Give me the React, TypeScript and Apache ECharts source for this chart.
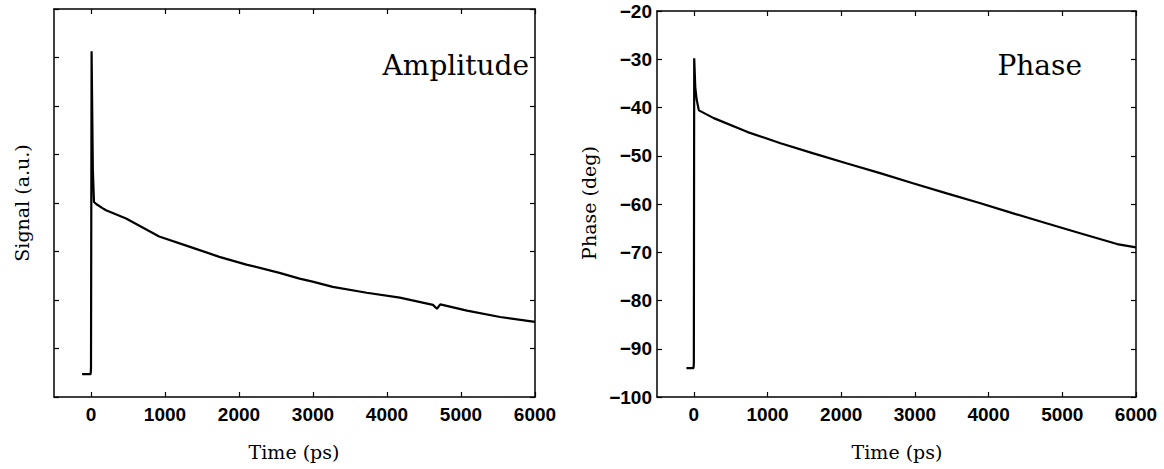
import React, { useEffect, useRef } from "react";
import * as echarts from "echarts";

const xTicks = [0, 1000, 2000, 3000, 4000, 5000, 6000];

const ampTime = [-120, -5, 0, 8, 25, 40, 70, 149, 203, 474, 921, 1328, 1734, 2100, 2547, 2818, 2995, 3266, 3726, 4173, 4621, 4675, 4720, 5081, 5528, 6000];
const ampVal = [0.47, 0.47, 0.6, 7.13, 4.69, 4.02, 3.98, 3.9, 3.85, 3.68, 3.31, 3.1, 2.89, 2.73, 2.56, 2.44, 2.38, 2.27, 2.15, 2.05, 1.9, 1.82, 1.91, 1.78, 1.65, 1.55];

const phaseTime = [-100, -5, 0, 5, 20, 40, 68, 270, 730, 1176, 1622, 2081, 2527, 2973, 3432, 3878, 4324, 4784, 5230, 5743, 6000];
const phaseVal = [-94.0, -94.0, -93, -29.8, -36, -38.5, -40.6, -42.2, -45.1, -47.4, -49.5, -51.6, -53.6, -55.7, -57.8, -59.8, -61.9, -64.0, -66.0, -68.3, -69.0];

const SERIF = "DejaVu Serif";
const SANS = "Liberation Sans";

export default function App() {
  const ref = useRef<HTMLDivElement>(null);
  useEffect(() => {
    if (!ref.current) return;
    const chart = echarts.init(ref.current, null, { renderer: "svg" });
    const axisLine = { show: true, onZero: false, lineStyle: { color: "#000", width: 1.5 } };
    const tick = { show: true, inside: true, length: 5, lineStyle: { color: "#000", width: 1.2 } };
    const xBase = (gridIndex: number, pos: string, labels: boolean) => ({
      type: "value",
      gridIndex,
      position: pos,
      min: -500,
      max: 6000,
      splitLine: { show: false },
      axisLine,
      axisTick: { ...tick, customValues: xTicks },
      axisLabel: labels
        ? {
            show: true,
            customValues: xTicks,
            color: "#000",
            fontFamily: SANS,
            fontWeight: "bold",
            fontSize: 19,
            margin: 8,
            formatter: (v: number) => String(v),
          }
        : { show: false },
    });
    const yAmp = (pos: string) => ({
      type: "value",
      gridIndex: 0,
      position: pos,
      min: 0,
      max: 8,
      interval: 1,
      splitLine: { show: false },
      axisLine,
      axisTick: tick,
      axisLabel: { show: false },
    });
    const yPhase = (pos: string, labels: boolean) => ({
      type: "value",
      gridIndex: 1,
      position: pos,
      min: -100,
      max: -20,
      interval: 10,
      splitLine: { show: false },
      axisLine,
      axisTick: tick,
      axisLabel: labels
        ? {
            show: true,
            color: "#000",
            fontFamily: SANS,
            fontWeight: "bold",
            fontSize: 19,
            margin: 5,
            formatter: (v: number) => String(v).replace("-", "\u2212"),
          }
        : { show: false },
    });
    chart.setOption({
      animation: false,
      backgroundColor: "#fff",
      grid: [
        { left: 54, right: 629, top: 9, bottom: 72 },
        { left: 657, right: 28, top: 11, bottom: 72 },
      ],
      xAxis: [xBase(0, "bottom", true), xBase(0, "top", false), xBase(1, "bottom", true), xBase(1, "top", false)],
      yAxis: [yAmp("left"), yAmp("right"), yPhase("left", true), yPhase("right", false)],
      series: [
        {
          type: "line",
          xAxisIndex: 0,
          yAxisIndex: 0,
          data: ampTime.map((t, i) => [t, ampVal[i]]),
          showSymbol: false,
          lineStyle: { color: "#000", width: 2.2 },
        },
        {
          type: "line",
          xAxisIndex: 2,
          yAxisIndex: 2,
          data: phaseTime.map((t, i) => [t, phaseVal[i]]),
          showSymbol: false,
          lineStyle: { color: "#000", width: 2.2 },
        },
      ],
      graphic: [
        { type: "text", x: 529, y: 65, style: { text: "Amplitude", font: `28px '${SERIF}'`, fill: "#000", textAlign: "right", textVerticalAlign: "middle" } },
        { type: "text", x: 1082, y: 65, style: { text: "Phase", font: `28px '${SERIF}'`, fill: "#000", textAlign: "right", textVerticalAlign: "middle" } },
        { type: "text", x: 294, y: 452, style: { text: "Time (ps)", font: `19px '${SERIF}'`, fill: "#000", textAlign: "center", textVerticalAlign: "middle" } },
        { type: "text", x: 897, y: 452, style: { text: "Time (ps)", font: `19px '${SERIF}'`, fill: "#000", textAlign: "center", textVerticalAlign: "middle" } },
        { type: "text", x: 22, y: 203, rotation: Math.PI / 2, style: { text: "Signal (a.u.)", font: `19px '${SERIF}'`, fill: "#000", textAlign: "center", textVerticalAlign: "middle" } },
        { type: "text", x: 589, y: 203, rotation: Math.PI / 2, style: { text: "Phase (deg)", font: `19px '${SERIF}'`, fill: "#000", textAlign: "center", textVerticalAlign: "middle" } },
      ],
    });
    return () => chart.dispose();
  }, []);
  return <div ref={ref} style={{ position: "absolute", left: 0, top: 0, width: 1164, height: 469 }} />;
}
